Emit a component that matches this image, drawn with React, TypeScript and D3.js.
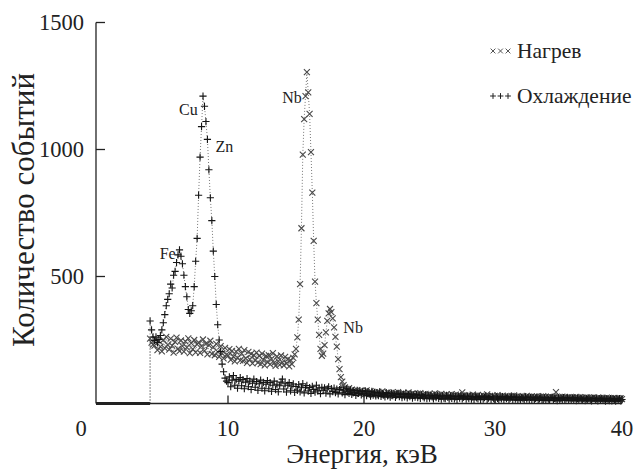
import { useEffect, useRef } from "react";
import * as d3 from "d3";

// energy grid: channels every 0.1 keV starting at 4.7 keV
const energyStart = 4.7;
const energyStep = 0.1;

const xTicks = [0, 10, 20, 30, 40];
const yTicks = [500, 1000, 1500];

// Нагрев (heating), counts per channel
const heatCounts = [
  255, 240, 232,
  228, 252, 210, 246, 224, 205, 250, 218, 262, 231,
  212, 255, 228, 200, 243, 259, 215, 206, 248, 226,
  204, 245, 221, 256, 198, 238, 214, 250, 201, 233,
  241, 199, 226, 252, 207, 236, 193, 230, 247, 195,
  222, 190, 235, 203, 184, 226, 197, 178, 219, 192,
  188, 214, 172, 207, 185, 166, 204, 180, 215, 170,
  196, 168, 210, 178, 160, 203, 174, 195, 158, 190,
  170, 200, 161, 188, 155, 196, 172, 150, 187, 163,
  190, 154, 176, 198, 160, 148, 185, 167, 152, 189,
  162, 150, 184, 158, 175, 146, 171, 155, 180, 193,
  215, 260, 330, 470, 690, 980, 1120, 1210, 1305, 1225,
  1140, 990, 830, 640, 480, 395, 330, 270, 215, 188,
  196, 230, 280, 325, 355, 372, 360, 335, 300, 262,
  224, 175, 135, 104, 86, 72, 63, 58, 52, 60,
  48, 55, 44, 51, 40, 53, 46, 38, 50, 43,
  47, 39, 52, 41, 36, 49, 44, 34, 45, 40,
  37, 46, 33, 42, 48, 35, 40, 31, 44, 38,
  34, 43, 37, 30, 41, 36, 45, 32, 39, 35,
  42, 31, 38, 33, 44, 29, 37, 40, 32, 36,
  30, 39, 34, 41, 28, 36, 33, 38, 27, 35,
  37, 29, 34, 31, 40, 30, 35, 26, 33, 38,
  28, 34, 31, 36, 27, 33, 30, 37, 25, 32,
  35, 29, 33, 26, 31, 44, 28, 32, 24, 30,
  33, 27, 30, 35, 25, 31, 28, 34, 26, 29,
  24, 32, 28, 30, 36, 26, 29, 23, 31, 27,
  30, 25, 33, 27, 29, 24, 31, 26, 28, 22,
  29, 26, 23, 30, 27, 32, 24, 28, 25, 21,
  27, 24, 29, 22, 26, 30, 23, 27, 25, 28,
  22, 26, 24, 28, 21, 25, 27, 23, 29, 24,
  26, 22, 25, 20, 27, 24, 22, 26, 45, 19,
  25, 21, 24, 27, 22, 26, 23, 20, 25, 22,
  21, 24, 19, 23, 26, 20, 22, 25, 18, 23,
  22, 19, 24, 21, 17, 23, 20, 22, 24, 18,
  20, 23, 18, 21, 19, 22, 17, 20, 23, 19,
  18, 21, 16, 20, 22, 17, 19, 21, 18, 20,
  17,
];

// Охлаждение (cooling), counts per channel
const coolCounts = [
  325, 290, 262,
  248, 262, 240, 252, 268, 290, 318, 350, 385, 410,
  432, 470, 455, 505, 520, 555, 585, 605, 580, 550,
  505, 460, 420, 370, 355, 365, 385, 460, 560, 650,
  820, 970, 1090, 1210, 1170, 1110, 1040, 920, 810, 720,
  600, 500, 390, 310, 250, 205, 155, 125, 100, 88,
  82, 105, 66, 92, 110, 72, 95, 60, 88, 102,
  70, 94, 58, 84, 98, 66, 88, 55, 80, 96,
  64, 86, 52, 78, 92, 60, 83, 50, 76, 90,
  58, 82, 48, 72, 88, 55, 76, 46, 70, 84,
  96, 57, 78, 45, 72, 82, 50, 68, 77, 44,
  67, 52, 74, 46, 64, 78, 42, 62, 71, 49,
  63, 40, 68, 55, 45, 72, 50, 61, 39, 64,
  52, 62, 41, 58, 66, 38, 59, 47, 61, 43,
  57, 38, 55, 62, 42, 53, 35, 58, 46, 40,
  54, 36, 51, 44, 32, 52, 40, 49, 34, 48,
  38, 50, 31, 46, 37, 29, 48, 33, 44, 30,
  42, 31, 45, 28, 40, 35, 26, 43, 30, 39,
  25, 41, 31, 38, 24, 36, 40, 27, 37, 23,
  35, 26, 39, 22, 34, 27, 37, 21, 33, 25,
  36, 23, 32, 20, 34, 27, 22, 33, 19, 31,
  21, 32, 26, 18, 30, 23, 33, 20, 28, 17,
  30, 21, 19, 31, 24, 17, 29, 20, 28, 18,
  27, 16, 28, 21, 30, 18, 25, 29, 17, 27,
  19, 28, 17, 26, 15, 27, 22, 18, 28, 16,
  26, 17, 23, 29, 16, 21, 27, 15, 25, 19,
  16, 26, 20, 14, 25, 18, 27, 15, 24, 19,
  25, 15, 21, 26, 14, 24, 17, 25, 13, 22,
  15, 24, 19, 13, 25, 17, 23, 14, 24, 16,
  23, 14, 20, 25, 13, 18, 24, 16, 12, 22,
  14, 23, 17, 12, 22, 24, 13, 20, 18, 11,
  22, 13, 20, 15, 23, 12, 18, 22, 13, 21,
  12, 21, 16, 22, 11, 19, 14, 21, 17, 12,
  20, 11, 18, 15, 21, 13, 10, 19, 20, 12,
  18, 10, 19, 14, 20, 12, 17, 9, 19, 14,
  11, 19, 10, 18, 15, 9, 18, 12, 19, 10,
  16,
];

const peakLabels = [
  { text: "Fe", e: 5.9, c: 570 },
  { text: "Cu", e: 7.3, c: 1136 },
  { text: "Zn", e: 9.76, c: 990 },
  { text: "Nb", e: 14.7, c: 1183 },
  { text: "Nb", e: 19.2, c: 277 },
];

const legendItems = [
  { label: "Нагрев", kind: "x" },
  { label: "Охлаждение", kind: "+" },
];

const font = "Liberation Serif, Tinos, Times New Roman, DejaVu Serif, serif";

const markPath = (kind, r) =>
  kind === "x"
    ? `M${-r},${-r}L${r},${r}M${-r},${r}L${r},${-r}`
    : `M${-r},0H${r}M0,${-r}V${r}`;

const Chart = () => {
  const svgRef = useRef(null);

  useEffect(() => {
    const svg = d3.select(svgRef.current);
    svg.selectAll("*").remove();

    // the printed energy axis is not evenly spaced, so map tick by tick
    const x = d3.scaleLinear().domain(xTicks).range([81, 228, 364, 495, 622]);
    const y = d3.scaleLinear().domain([0, 1500]).range([403.5, 22.5]);
    const axisStart = 1.02;

    const toPoints = (counts) =>
      counts.map((c, i) => ({ e: energyStart + energyStep * i, c }));

    const series = [
      { name: "heat", kind: "x", pts: toPoints(heatCounts), color: "#4a4a4a", r: 3 },
      { name: "cool", kind: "+", pts: toPoints(coolCounts), color: "#151515", r: 3.6 },
    ];

    const line = d3.line().x((d) => x(d.e)).y((d) => y(d.c));

    // zero counts before the spectrum starts
    svg.append("line")
      .attr("x1", x(axisStart)).attr("x2", x(energyStart))
      .attr("y1", y(0)).attr("y2", y(0))
      .attr("stroke", "#222").attr("stroke-width", 3);

    series.forEach((s) => {
      svg.append("path")
        .attr("d", line([{ e: energyStart, c: 0 }, ...s.pts]))
        .attr("fill", "none")
        .attr("stroke", "#555")
        .attr("stroke-width", 0.8)
        .attr("stroke-dasharray", "1,2");
    });

    series.forEach((s) => {
      svg.append("g")
        .selectAll("path")
        .data(s.pts)
        .enter()
        .append("path")
        .attr("transform", (d) => `translate(${x(d.e)},${y(d.c)})`)
        .attr("d", markPath(s.kind, s.r))
        .attr("fill", "none")
        .attr("stroke", s.color)
        .attr("stroke-width", 1.1);
    });

    // axes
    const axis = svg.append("g").attr("stroke", "#222").attr("stroke-width", 1.3);
    axis.append("line")
      .attr("x1", x(axisStart)).attr("x2", x(40))
      .attr("y1", y(0)).attr("y2", y(0));
    axis.append("line")
      .attr("x1", x(axisStart)).attr("x2", x(axisStart))
      .attr("y1", y(0)).attr("y2", y(1500));
    axis.selectAll(".ytick")
      .data(yTicks)
      .enter()
      .append("line")
      .attr("x1", x(axisStart)).attr("x2", x(axisStart) + 9)
      .attr("y1", (d) => y(d)).attr("y2", (d) => y(d));
    axis.selectAll(".xtick")
      .data(xTicks.filter((d) => d > axisStart))
      .enter()
      .append("line")
      .attr("x1", (d) => x(d)).attr("x2", (d) => x(d))
      .attr("y1", y(0)).attr("y2", y(0) - 8);

    svg.append("g")
      .selectAll("text")
      .data(yTicks)
      .enter()
      .append("text")
      .attr("x", 84)
      .attr("y", (d) => y(d) + 7)
      .attr("text-anchor", "end")
      .attr("font-family", font)
      .attr("font-size", 22.5)
      .attr("fill", "#222")
      .text((d) => d);

    svg.append("g")
      .selectAll("text")
      .data(xTicks)
      .enter()
      .append("text")
      .attr("x", (d) => x(d))
      .attr("y", 436)
      .attr("text-anchor", "middle")
      .attr("font-family", font)
      .attr("font-size", 22.5)
      .attr("fill", "#222")
      .text((d) => d);

    svg.append("text")
      .attr("x", 362)
      .attr("y", 463)
      .attr("text-anchor", "middle")
      .attr("font-family", font)
      .attr("font-size", 27)
      .attr("fill", "#222")
      .text("Энергия, кэВ");

    svg.append("text")
      .attr("transform", "translate(34,210) rotate(-90)")
      .attr("text-anchor", "middle")
      .attr("font-family", font)
      .attr("font-size", 31)
      .attr("fill", "#222")
      .text("Количество событий");

    // element labels
    svg.append("g")
      .selectAll("text")
      .data(peakLabels)
      .enter()
      .append("text")
      .attr("x", (d) => x(d.e))
      .attr("y", (d) => y(d.c))
      .attr("text-anchor", "middle")
      .attr("font-family", font)
      .attr("font-size", 16)
      .attr("fill", "#222")
      .text((d) => d.text);

    // legend
    const legend = svg.append("g").attr("transform", "translate(493,51)");
    legendItems.forEach((item, i) => {
      const row = legend.append("g").attr("transform", `translate(0,${i * 45})`);
      [0, 1, 2].forEach((k) => {
        row.append("path")
          .attr("transform", `translate(${k * 7.5},0)`)
          .attr("d", markPath(item.kind, item.kind === "x" ? 2.4 : 2.9))
          .attr("fill", "none")
          .attr("stroke", item.kind === "x" ? "#555" : "#222")
          .attr("stroke-width", 1);
      });
      row.append("text")
        .attr("x", 24)
        .attr("y", 7)
        .attr("font-family", font)
        .attr("font-size", 21.5)
        .attr("fill", "#222")
        .text(item.label);
    });
  }, []);

  return <svg ref={svgRef} width={638} height={469} style={{ position: "absolute", left: 0, top: 0, background: "#fff" }}></svg>;
};

export default function App() {
  return <Chart />;
}
